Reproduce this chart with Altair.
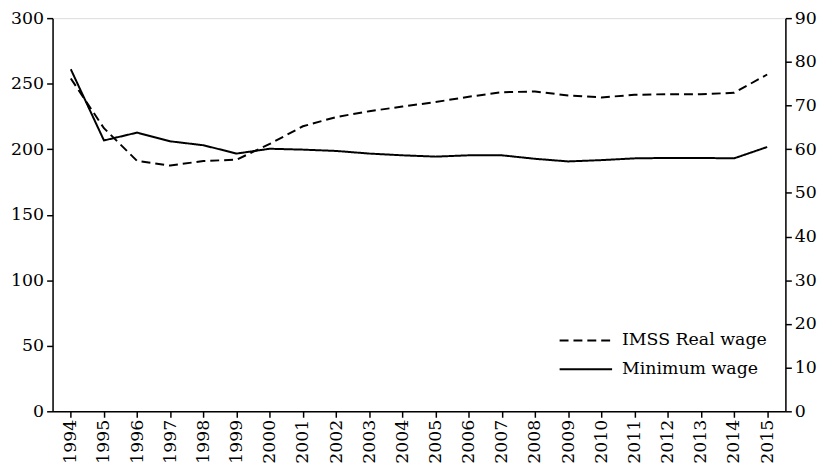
import altair as alt
import pandas as pd

years = [str(y) for y in range(1994, 2016)]
imss_real_wage = [254, 216, 191, 187.5, 191, 192, 204, 217.5, 224.5, 229, 232.5, 236,
                  240, 243.5, 244, 241, 239.5, 241.5, 242, 242, 243, 257]
minimum_wage = [78.3, 62.0, 63.8, 61.8, 60.9, 59.0, 60.1, 59.9, 59.6, 59.0, 58.6, 58.3,
                58.6, 58.6, 57.8, 57.2, 57.5, 57.9, 58.0, 58.0, 57.9, 60.5]
series_names = ["IMSS Real wage", "Minimum wage"]
left_ticks = [0, 50, 100, 150, 200, 250, 300]
right_ticks = [0, 10, 20, 30, 40, 50, 60, 70, 80, 90]

df_imss = pd.DataFrame({"year": years, "value": imss_real_wage, "series": series_names[0]})
df_min = pd.DataFrame({"year": years, "value": minimum_wage, "series": series_names[1]})

FONT = "Palatino Linotype, Book Antiqua, Palatino, DejaVu Serif"
FS = 17.5

x_enc = alt.X("year:O", sort=years,
              scale=alt.Scale(type="point", padding=0.55),
              axis=alt.Axis(title=None, labelAngle=-90, labelFontSize=FS, labelFont=FONT,
                            tickSize=6, labelPadding=2, domainColor="black", tickColor="black",
                            labelColor="black", grid=False, domainWidth=1.5, tickWidth=1.5))

dash_scale = alt.Scale(domain=series_names, range=[[9, 5], [1, 0]])
legend = alt.Legend(title=None, orient="none", legendX=524, legendY=311,
                    symbolType="M-2,0H2", symbolSize=702, symbolStrokeWidth=2,
                    symbolStrokeColor="black", symbolFillColor="transparent",
                    labelFontSize=FS, labelFont=FONT,
                    labelColor="black", rowPadding=6, labelOffset=22)

left = alt.Chart(df_imss).mark_line(color="black", strokeWidth=2).encode(
    x=x_enc,
    y=alt.Y("value:Q", scale=alt.Scale(domain=[0, 300], nice=False),
            axis=alt.Axis(title=None, values=left_ticks, orient="left", labelFontSize=FS,
                          labelFont=FONT, tickSize=6, labelPadding=3, grid=False,
                          domainColor="black", tickColor="black", labelColor="black",
                          domainWidth=1.5, tickWidth=1.5)),
    strokeDash=alt.StrokeDash("series:N", scale=dash_scale, legend=legend),
)

right = alt.Chart(df_min).mark_line(color="black", strokeWidth=2).encode(
    x=x_enc,
    y=alt.Y("value:Q", scale=alt.Scale(domain=[0, 90], nice=False),
            axis=alt.Axis(title=None, values=right_ticks, orient="right", labelFontSize=FS,
                          labelFont=FONT, tickSize=6, labelPadding=3, grid=False,
                          domainColor="black", tickColor="black", labelColor="black",
                          domainWidth=1.5, tickWidth=1.5)),
    strokeDash=alt.StrokeDash("series:N", scale=dash_scale, legend=legend),
)

chart = alt.layer(left, right).resolve_scale(y="independent").properties(
    width=740, height=397,
    autosize=alt.AutoSizeParams(type="none"),
    padding={"top": 8, "left": 45, "right": 42, "bottom": 54},
).configure_view(stroke=None).configure(background="white", font=FONT)

chart.save("out.html", embed_options={"renderer": "svg", "actions": False})
